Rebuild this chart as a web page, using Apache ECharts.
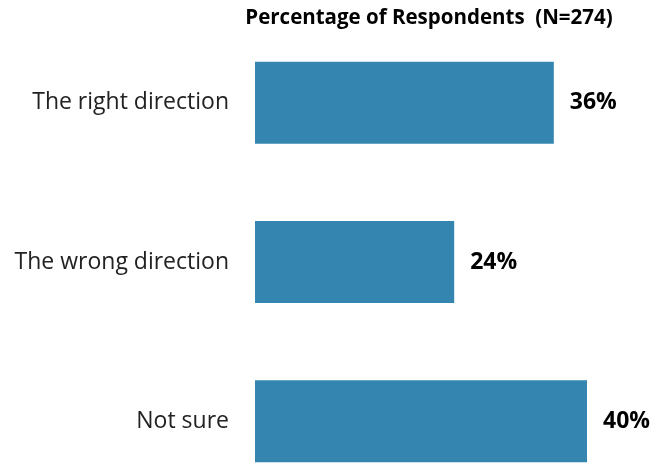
<!DOCTYPE html>
<html><head><meta charset="utf-8">
<script src="https://cdn.jsdelivr.net/npm/echarts@6/dist/echarts.min.js"></script>
<style>html,body{margin:0;padding:0;background:#fff}#c{width:650px;height:463px}</style>
</head><body><div id="c"></div>
<script>
const categories = ["The right direction", "The wrong direction", "Not sure"];
const values = [36, 24, 40];
const titleText = "Percentage of Respondents  (N=274)";

const chart = echarts.init(document.getElementById('c'));
chart.setOption({
  animation: false,
  backgroundColor: '#fff',
  title: {
    text: titleText, left: 424, top: 3, textAlign: 'center',
    textStyle: { fontFamily: 'Open Sans', fontWeight: 'bold', fontSize: 20.5, color: '#000' }
  },
  grid: { left: 255, top: 23, width: 332, height: 478, containLabel: false, outerBoundsMode: 'none' },
  xAxis: { type: 'value', min: 0, max: 40, show: false },
  yAxis: {
    type: 'category', data: categories, inverse: true,
    axisLine: { show: false }, axisTick: { show: false },
    axisLabel: { margin: 26, fontFamily: 'Open Sans', fontSize: 23, color: '#222' }
  },
  series: [{
    type: 'bar', data: values, barWidth: 82,
    itemStyle: { color: '#3486B0' },
    label: {
      show: true, position: 'right', distance: 16, formatter: '{c}%',
      fontFamily: 'Open Sans', fontWeight: 'bold', fontSize: 23, color: '#000'
    }
  }]
});
</script></body></html>
